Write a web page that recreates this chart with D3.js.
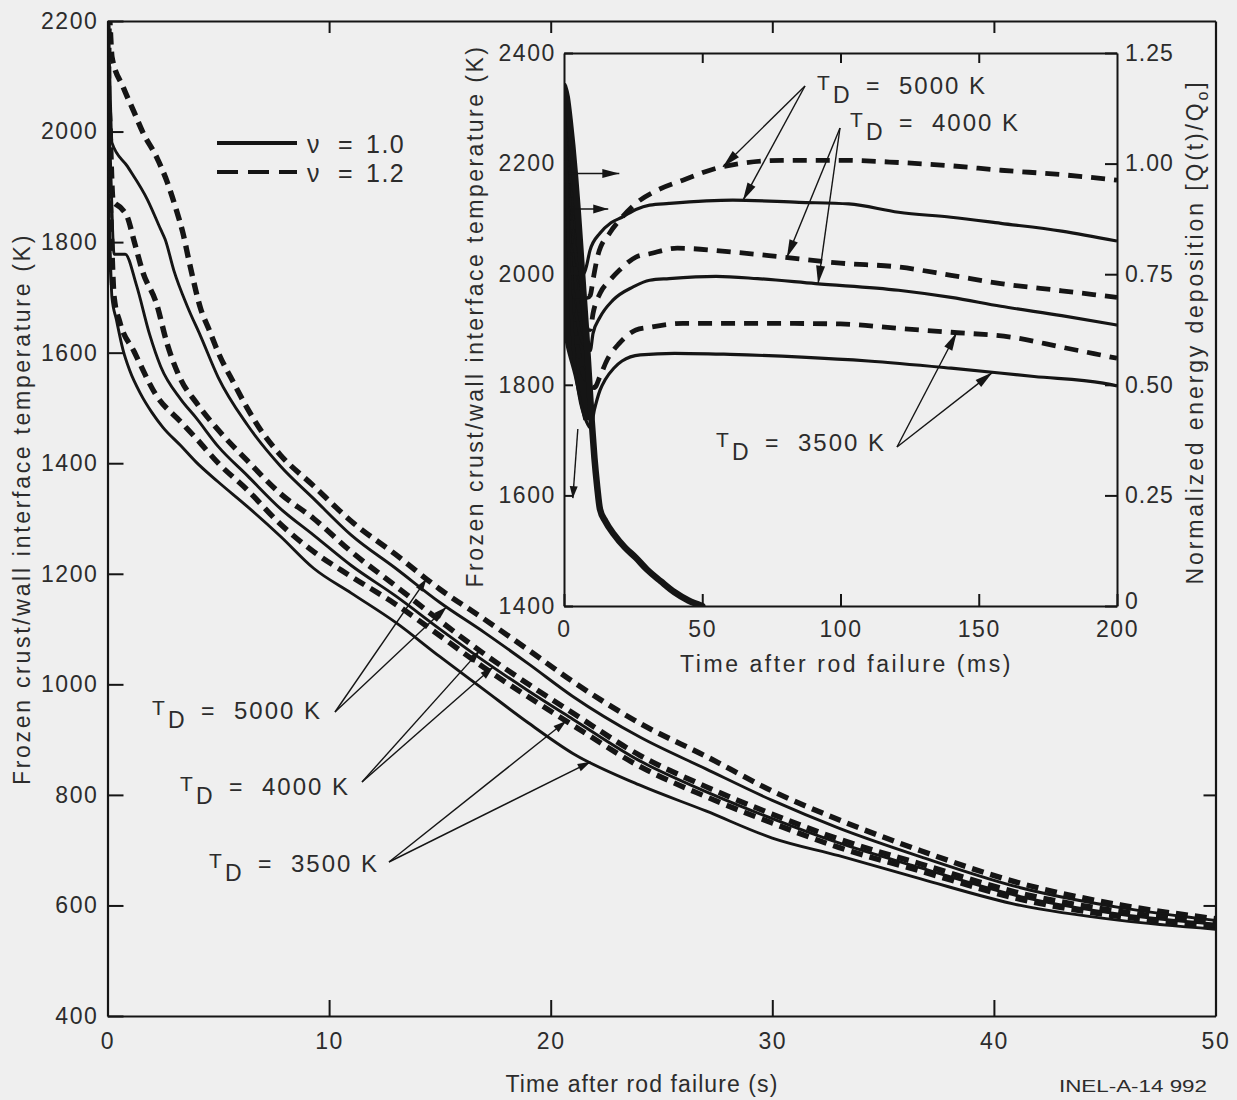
<!DOCTYPE html>
<html>
<head>
<meta charset="utf-8">
<script src="https://cdn.jsdelivr.net/npm/d3@7"></script>
<style>
  html, body { margin: 0; padding: 0; background: #efefef; }
  svg { display: block; }
  text { font-family: "Liberation Sans", Arial, Helvetica, sans-serif; }
</style>
</head>
<body>
<script>
// ---------------------------------------------------------------
// Data
// ---------------------------------------------------------------

// Main panel axes
const mainTimeTicks = [0, 10, 20, 30, 40, 50];             // s
const mainTempTicks = [400, 600, 800, 1000, 1200, 1400, 1600, 1800, 2000, 2200]; // K

// Main panel: frozen crust / wall interface temperature [time (s), T (K)]
// (the first few points hold the sub-0.1 s transient that the inset resolves)
const main_TD5000_nu12 = [[0,2330],[0.01,1955],[0.08,2206],[0.2,2135],[0.7,2081],[1.2,2035],[1.6,1998],[2.2,1955],[2.7,1908],[3.1,1859],[3.4,1817],[3.7,1762],[4.2,1680],[4.6,1640],[5,1600],[5.7,1545],[6.3,1500],[7,1455],[7.8,1415],[9.3,1359],[11,1295],[13,1235],[15,1172],[17,1118],[19,1062],[21,1005],[24,930],[27,870],[30,807],[33,755],[36.7,699],[41.2,640],[45.7,601],[50,576]];
const main_TD5000_nu10 = [[0,2330],[0.008,2000],[0.06,2134],[0.2,1980],[0.9,1937],[1.8,1877],[2.4,1823],[2.6,1805],[3.0,1748],[3.6,1684],[4.2,1630],[5,1555],[6.3,1470],[7.8,1395],[9.3,1336],[11,1270],[13,1210],[15,1148],[17,1094],[19,1037],[21,978],[24,905],[27,847],[30,790],[33,740],[36.7,688],[41.2,632],[45.7,596],[50,573]];
const main_TD4000_nu12 = [[0,2330],[0.01,1900],[0.05,2047],[0.25,1875],[0.6,1862],[0.9,1845],[1.2,1802],[1.6,1745],[2.2,1690],[2.7,1615],[3.3,1552],[4,1510],[5,1460],[6.3,1405],[7.8,1345],[9.3,1300],[11,1240],[13,1178],[15,1115],[17,1055],[19,1000],[21,948],[24,872],[27,815],[30,765],[33,720],[36.7,675],[41.2,622],[45.7,589],[50,569]];
const main_TD4000_nu10 = [[0,2330],[0.01,1862],[0.06,1996],[0.3,1778],[0.8,1778],[1.3,1723],[1.9,1633],[2.4,1575],[3.3,1516],[4,1482],[5,1430],[6.3,1378],[7.8,1318],[9.3,1270],[11,1215],[13,1160],[15,1100],[17,1042],[19,988],[21,937],[24,862],[27,806],[30,757],[33,713],[36.7,668],[41.2,616],[45.7,584],[50,566]];
const main_TD3500_nu12 = [[0,2330],[0.011,1795],[0.05,1911],[0.3,1700],[0.55,1656],[1.2,1602],[2.2,1523],[3.3,1475],[4,1445],[5,1400],[6.3,1352],[7.8,1290],[9.3,1240],[11,1195],[13,1145],[15,1088],[17,1030],[19,977],[21,926],[24,852],[27,797],[30,749],[33,705],[36.7,662],[41.2,611],[45.7,580],[50,563]];
const main_TD3500_nu10 = [[0,2330],[0.01,1722],[0.04,1857],[0.2,1700],[0.4,1660],[0.7,1605],[1.0,1568],[1.5,1525],[2,1492],[2.5,1465],[3.3,1432],[4,1402],[5,1366],[6.3,1322],[7.8,1268],[9.3,1210],[11,1165],[13,1112],[15,1050],[17,990],[19,930],[21,875],[24,818],[27,771],[30,722],[33,690],[36.7,648],[41.2,600],[45.7,573],[50,557]];

// Inset axes
const insetTimeTicks = [0, 50, 100, 150, 200];               // ms
const insetTempTicks = [1400, 1600, 1800, 2000, 2200, 2400]; // K
const insetQTicks = [0, 0.25, 0.5, 0.75, 1.0, 1.25];
const insetQTickLabels = ["0", "0.25", "0.50", "0.75", "1.00", "1.25"];

// Inset: interface temperature during the first 200 ms [time (ms), T (K)]
const inset_TD5000_nu12 = [[0,2330],[1,2230],[2.5,2120],[4.5,2030],[6.5,1980],[8.5,1958],[9.5,1962],[10.5,1990],[12.3,2035],[16.6,2075],[21,2103],[26,2128],[33,2150],[43,2170],[57,2194],[79,2206],[100,2206],[121,2202],[140,2196],[158,2188],[180,2180],[200,2170]];
const inset_TD5000_nu10 = [[0,2330],[0.7,2250],[1.8,2150],[3.5,2060],[5.5,2010],[7,2000],[8,2012],[9.4,2043],[13,2074],[17,2093],[21,2103],[26,2117],[31,2125],[38,2128],[61,2134],[85,2130],[103,2127],[121,2112],[140,2103],[158,2092],[180,2078],[200,2060]];
const inset_TD4000_nu12 = [[0,2330],[1.2,2180],[2.5,2060],[4.5,1960],[7,1910],[9.5,1900],[10.5,1929],[13,1965],[16.6,1989],[20,2007],[26,2031],[31,2037],[41,2047],[61,2040],[79,2031],[100,2020],[121,2013],[140,1998],[158,1983],[180,1970],[200,1958]];
const inset_TD4000_nu10 = [[0,2330],[1.5,2130],[3,1990],[5,1910],[7.5,1870],[9.5,1862],[10.5,1893],[13,1922],[17.7,1953],[25,1977],[31,1989],[38,1992],[55,1996],[70,1992],[91,1983],[121,1971],[140,1958],[158,1942],[180,1925],[200,1908]];
const inset_TD3500_nu12 = [[0,2330],[1.6,2080],[3.2,1940],[5.5,1850],[8.5,1805],[11,1795],[13,1815],[15.5,1844],[20,1875],[26,1899],[31,1904],[43,1911],[79,1911],[100,1910],[121,1902],[140,1895],[162,1886],[180,1868],[200,1848]];
const inset_TD3500_nu10 = [[0,2330],[1.8,2020],[3.5,1860],[5.5,1780],[8,1735],[9.6,1722],[11,1755],[13,1790],[15,1810],[18,1830],[21,1843],[27.6,1854],[40,1857],[60,1855],[86,1850],[110,1843],[140,1830],[170,1815],[195,1803],[200,1798]];

// Inset: normalized energy deposition Q(t)/Q0 [time (ms), Q/Q0]
const insetEnergy = [[0,1.175],[1,1.15],[2,1.1],[3,1.04],[4,0.97],[5,0.89],[6,0.8],[7,0.71],[8,0.62],[9,0.52],[10,0.42],[11,0.335],[12,0.27],[13,0.219],[15,0.191],[18,0.1625],[22,0.1325],[26,0.109],[30,0.0825],[35,0.056],[40,0.031],[45,0.0125],[50,0]];

// Series bookkeeping
const mainSeries = [
  { td: 5000, nu: 1.2, values: main_TD5000_nu12 },
  { td: 5000, nu: 1.0, values: main_TD5000_nu10 },
  { td: 4000, nu: 1.2, values: main_TD4000_nu12 },
  { td: 4000, nu: 1.0, values: main_TD4000_nu10 },
  { td: 3500, nu: 1.2, values: main_TD3500_nu12 },
  { td: 3500, nu: 1.0, values: main_TD3500_nu10 }
];
const insetSeries = [
  { td: 5000, nu: 1.2, values: inset_TD5000_nu12 },
  { td: 5000, nu: 1.0, values: inset_TD5000_nu10 },
  { td: 4000, nu: 1.2, values: inset_TD4000_nu12 },
  { td: 4000, nu: 1.0, values: inset_TD4000_nu10 },
  { td: 3500, nu: 1.2, values: inset_TD3500_nu12 },
  { td: 3500, nu: 1.0, values: inset_TD3500_nu10 }
];
const legendItems = [
  { nu: 1.0, label: "1.0" },
  { nu: 1.2, label: "1.2" }
];

// ---------------------------------------------------------------
// Drawing
// ---------------------------------------------------------------
const W = 1237, H = 1100;
const INK = "#151515";
const TXT = "#2c2c2c";
const FONT = '"Liberation Sans", Arial, Helvetica, sans-serif';

const svg = d3.select("body").append("svg").attr("width", W).attr("height", H);
svg.append("rect").attr("width", W).attr("height", H).attr("fill", "#efefef");

const x = d3.scaleLinear().domain([0, 50]).range([107.5, 1215.5]);
const y = d3.scaleLinear().domain([400, 2200]).range([1016, 21]);
const xi = d3.scaleLinear().domain([0, 200]).range([564, 1117]);
const yi = d3.scaleLinear().domain([1400, 2400]).range([606, 53]);
const qi = d3.scaleLinear().domain([0, 1.25]).range([606, 53]);

const mainStyle = nu => nu === 1.2 ? { width: 5.4, dash: "12,7" } : { width: 2.9, dash: null };
const insetStyle = nu => nu === 1.2 ? { width: 4.8, dash: "14,9" } : { width: 3.2, dash: null };

function styleAxis(g, fontSize) {
  g.attr("font-family", FONT).attr("font-size", fontSize);
  g.selectAll(".domain").attr("stroke", INK).attr("stroke-width", 2.2);
  g.selectAll(".tick line").attr("stroke", INK).attr("stroke-width", 2);
  g.selectAll(".tick text").attr("fill", TXT).attr("letter-spacing", "1.6px");
}

function valueAt(values, t) {
  const i = d3.bisector(d => d[0]).right(values, t);
  const a = values[Math.max(0, i - 1)], b = values[Math.min(values.length - 1, i)];
  if (a[0] === b[0]) return a[1];
  return a[1] + (b[1] - a[1]) * (t - a[0]) / (b[0] - a[0]);
}

function arrow(g, x1, y1, x2, y2, head = 14, halfW = 4.5) {
  g.append("line")
    .attr("x1", x1).attr("y1", y1).attr("x2", x2).attr("y2", y2)
    .attr("stroke", INK).attr("stroke-width", 1.4);
  const a = Math.atan2(y2 - y1, x2 - x1);
  const c = Math.cos(a), s = Math.sin(a);
  const bx = x2 - head * c, by = y2 - head * s;
  g.append("path")
    .attr("d", `M${x2},${y2}L${bx + halfW * s},${by - halfW * c}L${bx - halfW * s},${by + halfW * c}Z`)
    .attr("fill", INK);
}

function fitText(sel, target) {
  const node = sel.node();
  const len = node.getComputedTextLength();
  const n = node.textContent.length;
  sel.attr("letter-spacing", ((target - len) / n).toFixed(2) + "px");
}

function tdLabel(g, x0, base, value) {
  const t = g.append("g").attr("fill", TXT).attr("font-family", FONT);
  t.append("text").attr("x", x0).attr("y", base).attr("font-size", 21).text("T");
  t.append("text").attr("x", x0 + 16).attr("y", base + 13).attr("font-size", 23).text("D");
  t.append("text").attr("x", x0 + 49).attr("y", base + 4).attr("font-size", 23).text("=");
  t.append("text").attr("x", x0 + 82).attr("y", base + 4).attr("font-size", 24)
    .attr("letter-spacing", "2px").text(value + " K");
}

// ---------- main panel ----------
const main = svg.append("g");

main.append("clipPath").attr("id", "mainClip")
  .append("rect").attr("x", 107.5).attr("y", 21).attr("width", 1108).attr("height", 995);

const gxB = main.append("g").attr("transform", `translate(0,${y(400)})`)
  .call(d3.axisBottom(x).tickValues(mainTimeTicks).tickSizeInner(-16).tickSizeOuter(0).tickPadding(17).tickFormat(d3.format("d")));
styleAxis(gxB, 23);
const gxT = main.append("g").attr("transform", `translate(0,${y(2200)})`)
  .call(d3.axisTop(x).tickValues(mainTimeTicks.slice(1, -1)).tickSizeInner(-12).tickSizeOuter(0).tickFormat(""));
styleAxis(gxT, 23);
const gyL = main.append("g").attr("transform", `translate(${x(0)},0)`)
  .call(d3.axisLeft(y).tickValues(mainTempTicks).tickSizeInner(-16).tickSizeOuter(0).tickPadding(9).tickFormat(d3.format("d")));
styleAxis(gyL, 23);
const gyR = main.append("g").attr("transform", `translate(${x(50)},0)`)
  .call(d3.axisRight(y).tickValues([600, 800]).tickSizeInner(-12).tickSizeOuter(0).tickFormat(""));
styleAxis(gyR, 23);

const mainLine = d3.line().x(d => x(d[0])).y(d => y(d[1])).curve(d3.curveMonotoneX);
const mainCurves = main.append("g").attr("clip-path", "url(#mainClip)");
mainSeries.forEach(s => {
  const st = mainStyle(s.nu);
  mainCurves.append("path")
    .attr("d", mainLine(s.values))
    .attr("fill", "none").attr("stroke", INK)
    .attr("stroke-width", st.width)
    .attr("stroke-dasharray", st.dash)
    .attr("stroke-linejoin", "round");
});

// axis titles
const yTitle = main.append("text")
  .attr("transform", "translate(30,509) rotate(-90)")
  .attr("text-anchor", "middle").attr("fill", TXT).attr("font-size", 23)
  .text("Frozen crust/wall interface temperature (K)");
fitText(yTitle, 552);
const xTitle = main.append("text")
  .attr("x", 642).attr("y", 1092)
  .attr("text-anchor", "middle").attr("fill", TXT).attr("font-size", 23)
  .text("Time after rod failure (s)");
fitText(xTitle, 273);
main.append("text")
  .attr("x", 1059).attr("y", 1092).attr("fill", TXT).attr("font-size", 17)
  .attr("textLength", 148).attr("lengthAdjust", "spacingAndGlyphs")
  .text("INEL-A-14 992");

// legend
const legend = main.append("g");
legendItems.forEach((it, i) => {
  const ly = 143 + i * 29;
  legend.append("line")
    .attr("x1", 217).attr("x2", 297).attr("y1", ly).attr("y2", ly)
    .attr("stroke", INK).attr("stroke-width", 4)
    .attr("stroke-dasharray", it.nu === 1.2 ? "21,10" : null);
  const t = legend.append("g").attr("fill", TXT).attr("font-size", 25).attr("font-family", FONT);
  t.append("text").attr("x", 307).attr("y", ly + 10).text("\u03bd");
  t.append("text").attr("x", 338).attr("y", ly + 10).text("=");
  t.append("text").attr("x", 366).attr("y", ly + 10).attr("letter-spacing", "1.5px").text(it.label);
});

// T_D annotations, main panel
const ann = main.append("g");
const mainArrows = [
  { from: [335, 712], targets: [[5000, 1.2, 14.4], [5000, 1.0, 15.3]] },
  { from: [362, 782], targets: [[4000, 1.2, 16.8], [4000, 1.0, 17.4]] },
  { from: [389, 862], targets: [[3500, 1.2, 20.7], [3500, 1.0, 21.8]] }
];
mainArrows.forEach(a => {
  a.targets.forEach(([td, nu, t]) => {
    const s = mainSeries.find(d => d.td === td && d.nu === nu);
    arrow(ann, a.from[0], a.from[1], x(t), y(valueAt(s.values, t)), 13, 4);
  });
});
tdLabel(ann, 152, 715, 5000);
tdLabel(ann, 180, 791, 4000);
tdLabel(ann, 209, 868, 3500);

// ---------- inset ----------
const inset = svg.append("g");
inset.append("rect").attr("x", 564).attr("y", 53).attr("width", 553).attr("height", 553).attr("fill", "#efefef");
inset.append("clipPath").attr("id", "insetClip")
  .append("rect").attr("x", 564).attr("y", 53).attr("width", 553).attr("height", 553);

const ixB = inset.append("g").attr("transform", `translate(0,${yi(1400)})`)
  .call(d3.axisBottom(xi).tickValues(insetTimeTicks).tickSizeInner(-12).tickSizeOuter(0).tickPadding(15).tickFormat(d3.format("d")));
styleAxis(ixB, 23);
const ixT = inset.append("g").attr("transform", `translate(0,${yi(2400)})`)
  .call(d3.axisTop(xi).tickValues(insetTimeTicks.slice(1, -1)).tickSizeInner(-10).tickSizeOuter(0).tickFormat(""));
styleAxis(ixT, 23);
const iyL = inset.append("g").attr("transform", `translate(${xi(0)},0)`)
  .call(d3.axisLeft(yi).tickValues(insetTempTicks).tickSizeInner(-9).tickSizeOuter(0).tickPadding(8).tickFormat(d3.format("d")));
styleAxis(iyL, 23);
const iyR = inset.append("g").attr("transform", `translate(${xi(200)},0)`)
  .call(d3.axisRight(qi).tickValues(insetQTicks).tickSizeInner(-12).tickSizeOuter(0).tickPadding(8)
    .tickFormat((d, i) => insetQTickLabels[i]));
styleAxis(iyR, 23);
iyR.selectAll(".tick text").attr("letter-spacing", "1px");
iyR.selectAll(".tick text").filter(d => d === 0).attr("dy", "0.1em");

inset.selectAll(".domain").attr("stroke-width", 2);

const insetCurves = inset.append("g").attr("clip-path", "url(#insetClip)");

// early, strongly overlapping part: the region swept between the wall and the
// energy-deposition curve while all temperature traces fall together
const earlyEnergy = insetEnergy.filter(d => d[0] <= 10);
insetCurves.append("path")
  .attr("d", d3.area()
    .x0(d => xi(Math.max(0, 3.5 * (d[0] - 8))))
    .x1(d => xi(d[0]))
    .y(d => qi(d[1]))
    .curve(d3.curveMonotoneY)(earlyEnergy))
  .attr("fill", INK);

const insetLine = d3.line().x(d => xi(d[0])).y(d => yi(d[1])).curve(d3.curveMonotoneX);
insetSeries.forEach(s => {
  const st = insetStyle(s.nu);
  insetCurves.append("path")
    .attr("d", insetLine(s.values))
    .attr("fill", "none").attr("stroke", INK)
    .attr("stroke-width", st.width)
    .attr("stroke-dasharray", st.dash)
    .attr("stroke-linejoin", "round");
});
const energyLine = d3.line().x(d => xi(d[0])).y(d => qi(d[1])).curve(d3.curveMonotoneX);
insetCurves.append("path")
  .attr("d", energyLine(insetEnergy))
  .attr("fill", "none").attr("stroke", INK).attr("stroke-width", 6.5)
  .attr("stroke-linecap", "round");

// inset titles
const iyTitle = inset.append("text")
  .attr("transform", "translate(483,316) rotate(-90)")
  .attr("text-anchor", "middle").attr("fill", TXT).attr("font-size", 23)
  .text("Frozen crust/wall interface temperature (K)");
fitText(iyTitle, 543);
const ixTitle = inset.append("text")
  .attr("x", 846.5).attr("y", 672)
  .attr("text-anchor", "middle").attr("fill", TXT).attr("font-size", 23)
  .text("Time after rod failure (ms)");
fitText(ixTitle, 333);
const qTitle = inset.append("text")
  .attr("transform", "translate(1203,332) rotate(-90)")
  .attr("text-anchor", "middle").attr("fill", TXT).attr("font-size", 23);
qTitle.append("tspan").text("Normalized energy deposition [Q(t)/Q");
qTitle.append("tspan").attr("font-size", 16).attr("dy", 5).text("o");
qTitle.append("tspan").attr("dy", -5).text("]");
fitText(qTitle, 505);

// inset annotations
const iann = inset.append("g");
const insetArrows = [
  { from: [805, 86], targets: [[5000, 1.2, 57.5], [5000, 1.0, 64.7]] },
  { from: [840, 128], targets: [[4000, 1.2, 80.6], [4000, 1.0, 91.9]] },
  { from: [897, 447], targets: [[3500, 1.2, 142], [3500, 1.0, 155]] }
];
insetArrows.forEach(a => {
  a.targets.forEach(([td, nu, t]) => {
    const s = insetSeries.find(d => d.td === td && d.nu === nu);
    arrow(iann, a.from[0], a.from[1], xi(t), yi(valueAt(s.values, t)), 18, 4.5);
  });
});
tdLabel(iann, 817, 90, 5000);
tdLabel(iann, 850, 127, 4000);
tdLabel(iann, 716, 447, 3500);

// reference arrows at the left edge of the inset
arrow(iann, xi(1.5), yi(2182), xi(20), yi(2182), 17, 4.5);
arrow(iann, xi(3), yi(2118), xi(16), yi(2118), 15, 4.5);
arrow(iann, xi(5), yi(1720), xi(3.2), yi(1595), 12, 4);
</script>
</body>
</html>
